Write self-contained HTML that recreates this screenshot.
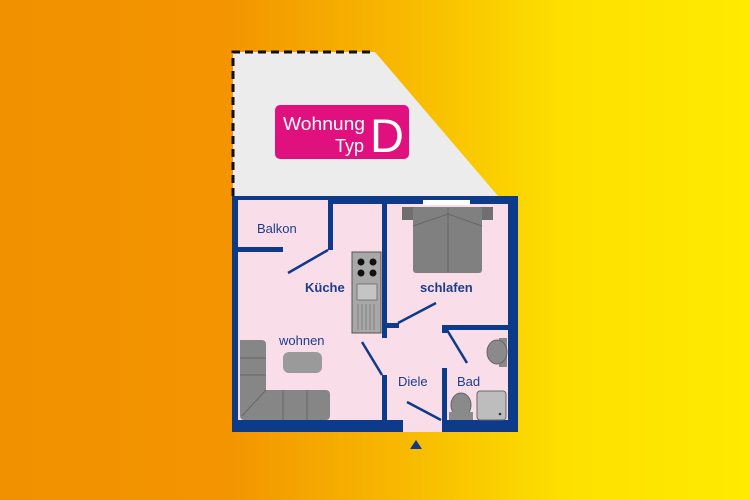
<!DOCTYPE html>
<html><head><meta charset="utf-8"><style>
html,body{margin:0;padding:0;width:750px;height:500px;overflow:hidden}
body{background:linear-gradient(90deg,#f29100 0%,#f39400 30%,#f8bb00 55%,#fde000 75%,#ffea00 100%)}
svg{position:absolute;left:0;top:0}
text{font-family:"Liberation Sans",sans-serif}
</style></head><body>
<svg width="750" height="500" viewBox="0 0 750 500">
<polygon points="233,52 375,52 498,196 233,196" fill="#ececec"/>
<path d="M233,196 L233,52 L375,52" fill="none" stroke="#111" stroke-width="3" stroke-dasharray="8,5"/>
<rect x="275" y="105" width="134" height="54" rx="5" fill="#e0107e"/>
<text x="283" y="130" font-size="18" fill="#fff" textLength="82" lengthAdjust="spacingAndGlyphs">Wohnung</text>
<text x="364" y="152" font-size="18" fill="#fff" text-anchor="end">Typ</text>
<text x="370" y="152" font-size="47" fill="#fff">D</text>
<rect x="232" y="196" width="286" height="236" fill="#0e3a8a"/>
<rect x="238" y="200" width="90" height="47" fill="#f9dde9"/>
<rect x="238" y="204" width="270" height="216" fill="#f9dde9"/>
<rect x="423" y="200" width="47" height="5" fill="#fff"/>
<rect x="328" y="198" width="5" height="52" fill="#0e3a8a"/>
<rect x="237" y="247" width="46" height="5" fill="#0e3a8a"/>
<rect x="382" y="204" width="5" height="134" fill="#0e3a8a"/>
<rect x="387" y="323" width="12" height="5" fill="#0e3a8a"/>
<rect x="442" y="325" width="66" height="5" fill="#0e3a8a"/>
<rect x="442" y="325" width="5" height="8" fill="#0e3a8a"/>
<rect x="442" y="368" width="5" height="55" fill="#0e3a8a"/>
<rect x="382" y="375" width="5" height="48" fill="#0e3a8a"/>
<rect x="403" y="420" width="39" height="12" fill="#f9dde9"/>
<polygon points="416,440 410,449 422,449" fill="#0e3a8a"/>
<g stroke="#0e3a8a" stroke-width="2.5">
<line x1="288" y1="273" x2="328" y2="250"/>
<line x1="398" y1="323" x2="436" y2="303"/>
<line x1="447" y1="330" x2="467" y2="363"/>
<line x1="362" y1="342" x2="382" y2="375"/>
<line x1="407" y1="402" x2="441" y2="420"/>
</g>
<rect x="352" y="252" width="29" height="81" fill="#a8a8a8" stroke="#555" stroke-width="1"/>
<circle cx="361" cy="262" r="3.5" fill="#111"/><circle cx="373" cy="262" r="3.5" fill="#111"/>
<circle cx="361" cy="273" r="3.5" fill="#111"/><circle cx="373" cy="273" r="3.5" fill="#111"/>
<rect x="357" y="284" width="20" height="16" fill="#c4c4c4" stroke="#666" stroke-width="0.8"/>
<g stroke="#777" stroke-width="0.8"><line x1="358" y1="304" x2="358" y2="330"/><line x1="362" y1="304" x2="362" y2="330"/><line x1="366" y1="304" x2="366" y2="330"/><line x1="370" y1="304" x2="370" y2="330"/><line x1="374" y1="304" x2="374" y2="330"/></g>
<rect x="402" y="207" width="91" height="13" fill="#6f6f6f"/>
<rect x="413" y="207" width="69" height="66" rx="3" fill="#808080"/>
<line x1="448" y1="208" x2="448" y2="272" stroke="#666" stroke-width="1"/>
<path d="M413,226 L448,214 L482,226" fill="none" stroke="#666" stroke-width="1"/>
<path d="M240,340 h22 a4,4 0 0 1 4,4 v46 h60 a4,4 0 0 1 4,4 v22 a4,4 0 0 1 -4,4 h-82 a4,4 0 0 1 -4,-4 z" fill="#868686"/>
<g stroke="#666" stroke-width="1" fill="none"><line x1="240" y1="358" x2="266" y2="358"/><line x1="240" y1="375" x2="266" y2="375"/><line x1="283" y1="390" x2="283" y2="420"/><line x1="307" y1="390" x2="307" y2="420"/><line x1="266" y1="390" x2="242" y2="416"/></g>
<rect x="283" y="352" width="39" height="21" rx="6" fill="#9a9a9a"/>
<rect x="499" y="338" width="8" height="29" fill="#8a8a8a"/>
<ellipse cx="497" cy="352" rx="10" ry="12" fill="#8a8a8a" stroke="#666"/>
<ellipse cx="461" cy="405" rx="10" ry="12" fill="#8a8a8a" stroke="#666"/>
<rect x="449" y="412" width="24" height="8" fill="#8a8a8a"/>
<rect x="477" y="391" width="29" height="29" rx="3" fill="#bdbdbd" stroke="#666"/>
<circle cx="500" cy="414" r="1.3" fill="#333"/>
<g fill="#1c3d8c">
<text x="257" y="233" font-size="13">Balkon</text>
<text x="305" y="292" font-size="13" font-weight="bold">Küche</text>
<text x="420" y="292" font-size="13" font-weight="bold">schlafen</text>
<text x="279" y="345" font-size="13">wohnen</text>
<text x="398" y="386" font-size="13">Diele</text>
<text x="457" y="386" font-size="13">Bad</text>
</g>
</svg>
</body></html>
